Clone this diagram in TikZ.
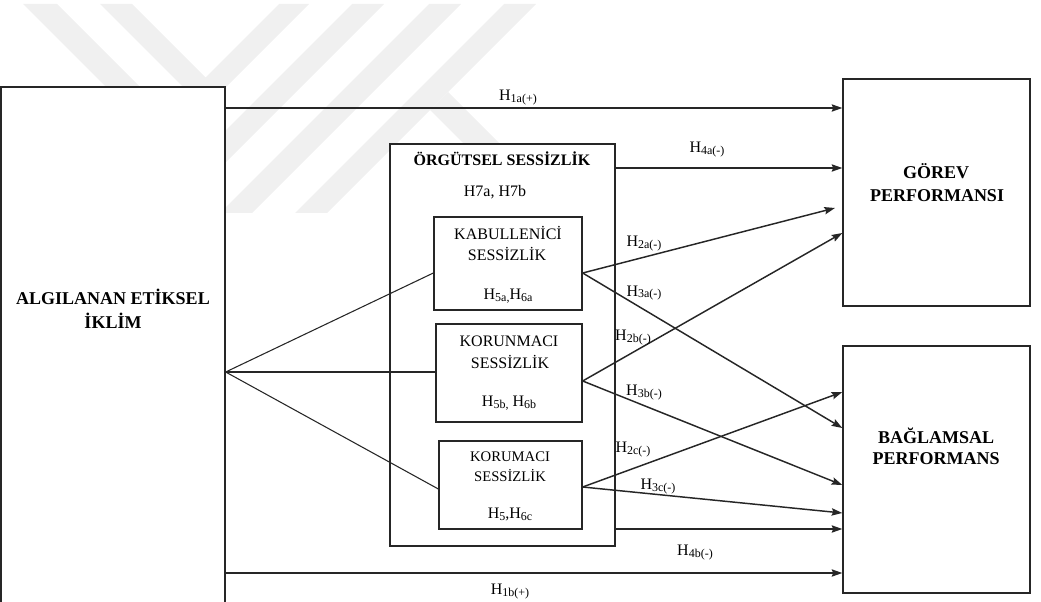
\documentclass[tikz,border=0pt]{standalone}
\usepackage{fontspec}
\setmainfont{Liberation Serif}
\usetikzlibrary{arrows.meta,calc,fit}
% lowered, smaller index text used in the hypothesis labels
\newcommand{\hsb}[1]{\raisebox{-1.5pt}{\fontsize{9}{9}\selectfont #1}}

\begin{document}
\begin{tikzpicture}[x=0.75pt,y=-0.75pt,
  box/.style={draw=black!85, line width=1pt, fill=white, inner sep=0pt},
  conn/.style={draw=black!85, line width=1.1pt,
    -{Stealth[length=8pt,width=5.5pt,inset=1.2pt]}},
  fanline/.style={draw=black!85, line width=0.8pt},
  lbl/.style={anchor=base, inner sep=0pt, font=\fontsize{12}{14}\selectfont},
  ttl/.style={lbl, font=\fontsize{12}{14}\selectfont\bfseries},
  bigttl/.style={lbl, font=\fontsize{13.5}{16}\selectfont\bfseries},
  small/.style={lbl, font=\fontsize{11}{13}\selectfont},
  wm/.style={fill=black!6, draw=none}]

\useasboundingbox (0,0) rectangle (1041,602);

% faint logo stripes in the upper left
\fill[wm] (23,4) -- (57,4) -- (204.5,151.5) -- (352,4) -- (384,4) -- (203.5,184.5) -- cycle;
\fill[wm] (100,4) -- (132,4) -- (205.5,77.5) -- (279,4) -- (309,4) -- (204.5,108.5) -- cycle;
\fill[wm] (429,4) -- (461,4) -- (252,213) -- (220,213) -- cycle;
\fill[wm] (504,4) -- (536,4) -- (327,213) -- (295,213) -- cycle;
\fill[wm] (448,92) -- (569,213) -- (533,213) -- (430,110) -- cycle;

% boxes
\node[box, fit={(1,87) (225,620)}] (aei) {};
\node[box, fit={(390,144) (615,546)}] (org) {};
\node[box, fit={(434,217) (582,310)}] (kab) {};
\node[box, fit={(436,324) (582,422)}] (korn) {};
\node[box, fit={(439,441) (582,529)}] (korm) {};
\node[box, fit={(843,79) (1030,306)}] (gorev) {};
\node[box, fit={(843,346) (1030,593)}] (bag) {};

% box texts
\node[bigttl] (aei1) at (113,304) {ALGILANAN ETİKSEL};
\node[bigttl] (aei2) at (113,328) {İKLİM};
\node[ttl] (org1) at (502,166) {ÖRGÜTSEL SESSİZLİK};
\node[lbl] (org2) at (495,197) {H7a, H7b};
\node[lbl] (kab1) at (508,239) {KABULLENİCİ};
\node[lbl] (kab2) at (507,260) {SESSİZLİK};
\node[lbl] (kab3) at (508,299) {H\hsb{5a,}H\hsb{6a}};
\node[lbl] (korn1) at (509,346) {KORUNMACI};
\node[lbl] (korn2) at (510,368) {SESSİZLİK};
\node[lbl] (korn3) at (509,406) {H\hsb{5b,} H\hsb{6b}};
\node[small] (korm1) at (510,461) {KORUMACI};
\node[small] (korm2) at (510,481) {SESSİZLİK};
\node[lbl] (korm3) at (510,518) {H\hsb{5},H\hsb{6c}};
\node[bigttl] (gorev1) at (936,179) {GÖREV};
\node[bigttl] (gorev2) at (937,202) {PERFORMANSI};
\node[bigttl] (bag1) at (936,443) {BAĞLAMSAL};
\node[bigttl] (bag2) at (936,464) {PERFORMANS};

% links from the climate box into the silence types
\coordinate (fan) at (aei.east |- 0,372);
\draw[fanline] (fan) -- (kab.west |- 0,273);
\draw[fanline] (fan) -- (korn.west |- 0,372);
\draw[fanline] (fan) -- (korm.west |- 0,489);

% hypothesis arrows
\coordinate (h2aend) at (835,208);
\draw[conn] (aei.east |- 0,108) -- (gorev.west |- 0,108);
\draw[conn] (org.east |- 0,168) -- (gorev.west |- 0,168);
\draw[conn] (kab.east |- 0,273) -- (h2aend);
\draw[conn] (kab.east |- 0,273) -- (bag.west |- 0,428);
\draw[conn] (korn.east |- 0,381) -- (gorev.west |- 0,233);
\draw[conn] (korn.east |- 0,381) -- (bag.west |- 0,485);
\draw[conn] (korm.east |- 0,487) -- (bag.west |- 0,392);
\draw[conn] (korm.east |- 0,487) -- (bag.west |- 0,513);
\draw[conn] (org.east |- 0,529) -- (bag.west |- 0,529);
\draw[conn] (aei.east |- 0,573) -- (bag.west |- 0,573);

% hypothesis labels
\node[lbl] (l1a) at (518,101) {H\hsb{1a(+)}};
\node[lbl] (l4a) at (707,153) {H\hsb{4a(-)}};
\node[lbl] (l2a) at (644,247) {H\hsb{2a(-)}};
\node[lbl] (l3a) at (644,296) {H\hsb{3a(-)}};
\node[lbl] (l2b) at (633,340) {H\hsb{2b(-)}};
\node[lbl] (l3b) at (644,395) {H\hsb{3b(-)}};
\node[lbl] (l2c) at (633,452) {H\hsb{2c(-)}};
\node[lbl] (l3c) at (658,489) {H\hsb{3c(-)}};
\node[lbl] (l4b) at (695,555) {H\hsb{4b(-)}};
\node[lbl] (l1b) at (510,594) {H\hsb{1b(+)}};
\end{tikzpicture}
\end{document}
